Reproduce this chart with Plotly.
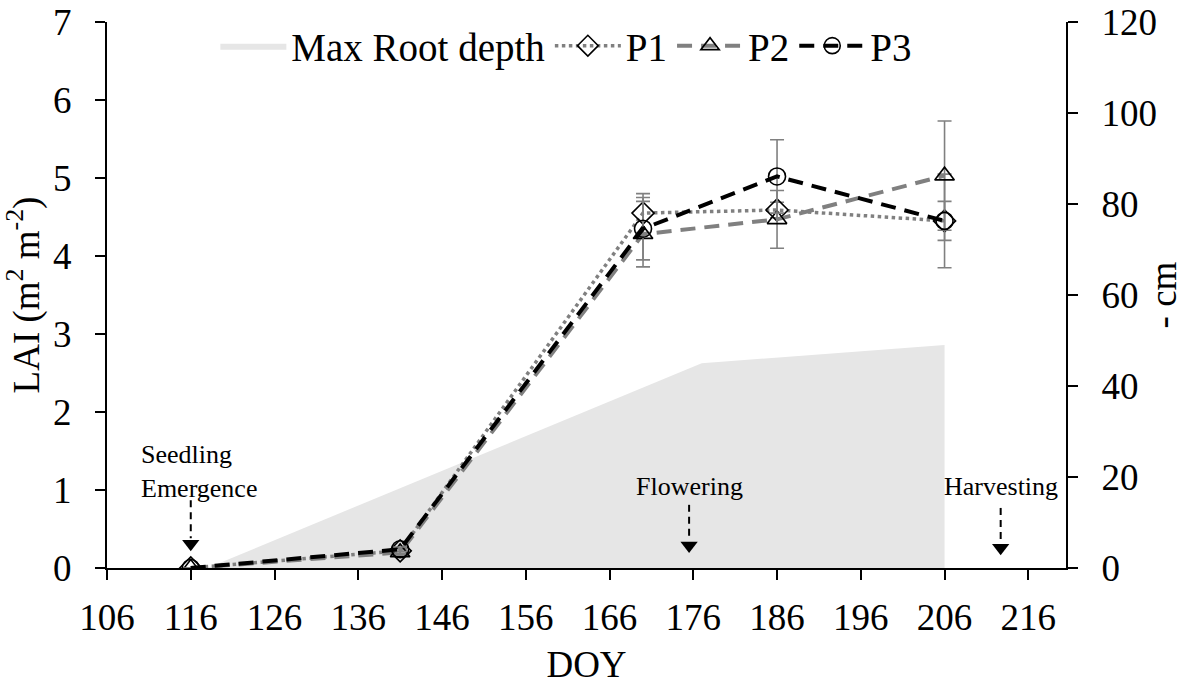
import plotly.graph_objects as go

# Data
doy = [116, 141, 170, 186, 206]
p1 = [0.0, 0.22, 4.55, 4.59, 4.45]
p2 = [0.0, 0.20, 4.28, 4.47, 5.03]
p3 = [0.0, 0.24, 4.35, 5.02, 4.45]
p1_err = [0.0, 0.03, 0.25, 0.10, 0.60]
p2_err = [0.0, 0.03, 0.42, 0.37, 0.70]
p3_err = [0.0, 0.03, 0.40, 0.47, 0.25]

root_doy = [118, 177, 206]
root_cm = [0.0, 45.0, 49.0]

event_doy = [116, 175.5, 212.7]
event_text = ["Seedling<br>Emergence", "Flowering", "Harvesting"]

FONT = "Liberation Serif"
GRAY = "#808080"
FS = 37

fig = go.Figure()

# root depth area (primary y = cm axis, displayed on right, drawn beneath)
fig.add_trace(go.Scatter(
    x=root_doy, y=root_cm, name="Max Root depth", mode="lines",
    fill="tozeroy", fillcolor="#e6e6e6", line=dict(width=0, color="#e6e6e6"),
    yaxis="y"))

fig.add_trace(go.Scatter(
    x=doy, y=p1, name="P1", mode="lines+markers", yaxis="y2",
    line=dict(color=GRAY, width=3.5, dash="dot"),
    marker=dict(symbol="diamond-open", size=17, color="black", line=dict(width=1.6)),
    error_y=dict(type="data", array=p1_err, color=GRAY, thickness=1.6, width=7)))
fig.add_trace(go.Scatter(
    x=doy, y=p2, name="P2", mode="lines+markers", yaxis="y2",
    line=dict(color=GRAY, width=4, dash="15px,9px"),
    marker=dict(symbol="triangle-up-open", size=17, color="black", line=dict(width=1.6)),
    error_y=dict(type="data", array=p2_err, color=GRAY, thickness=1.6, width=7)))
fig.add_trace(go.Scatter(
    x=doy, y=p3, name="P3", mode="lines+markers", yaxis="y2",
    line=dict(color="black", width=4, dash="15px,9px"),
    marker=dict(symbol="circle-open", size=17, color="black", line=dict(width=1.6)),
    error_y=dict(type="data", array=p3_err, color=GRAY, thickness=1.6, width=7)))

# event arrows: dashed shafts + triangle heads
arrow_top = [0.87, 0.81, 0.77]
arrow_tip = [0.21, 0.19, 0.16]
text_y = [1.24, 1.04, 1.04]
text_dx = [1.0, 0.0, 0.0]
fig.add_trace(go.Scatter(
    x=event_doy, y=[t + 0.1 for t in arrow_tip], mode="markers", yaxis="y2",
    showlegend=False, hoverinfo="skip",
    marker=dict(symbol="triangle-down", size=15, color="black", line=dict(width=0))))

shapes = []
annotations = []
for d, t, top, tip, ty, dx in zip(event_doy, event_text, arrow_top, arrow_tip, text_y, text_dx):
    shapes.append(dict(type="line", xref="x", yref="y2", x0=d, x1=d, y0=top, y1=tip + 0.17,
                       line=dict(color="black", width=2, dash="7px,5px")))
    annotations.append(dict(xref="x", yref="y2", x=d + dx, y=ty,
                            text=t, showarrow=False, align="left",
                            font=dict(family=FONT, size=26, color="black"),
                            yanchor="middle"))

axis_common = dict(showline=True, linecolor="black", linewidth=2, ticks="outside",
                   ticklen=10, tickwidth=2, tickcolor="black", showgrid=False,
                   zeroline=False, automargin=False,
                   tickfont=dict(family=FONT, size=FS, color="black"))

fig.update_layout(
    width=1184, height=686,
    margin=dict(l=107, r=118, t=22, b=118),
    paper_bgcolor="white", plot_bgcolor="white",
    font=dict(family=FONT, size=FS, color="black"),
    showlegend=True,
    legend=dict(orientation="h", x=0.113, y=1.015, xanchor="left", yanchor="top",
                bgcolor="rgba(0,0,0,0)", font=dict(family=FONT, size=39),
                itemwidth=66, tracegroupgap=0),
    xaxis=dict(range=[106, 220.5], tickvals=list(range(106, 217, 10)),
               ticklabelstandoff=6,
               title=dict(text="DOY", font=dict(size=FS), standoff=14), **axis_common),
    yaxis=dict(range=[0, 120], dtick=20, side="right", ticklabelstandoff=16,
               title=dict(text="- cm", font=dict(size=FS), standoff=0), **axis_common),
    yaxis2=dict(range=[0, 7], dtick=1, side="left", overlaying="y", ticklabelstandoff=16,
                title=dict(text="LAI (m<sup>2</sup> m<sup>-2</sup>)", font=dict(size=FS), standoff=6),
                **axis_common),
    shapes=shapes, annotations=annotations,
)

fig.write_html("out.html")
